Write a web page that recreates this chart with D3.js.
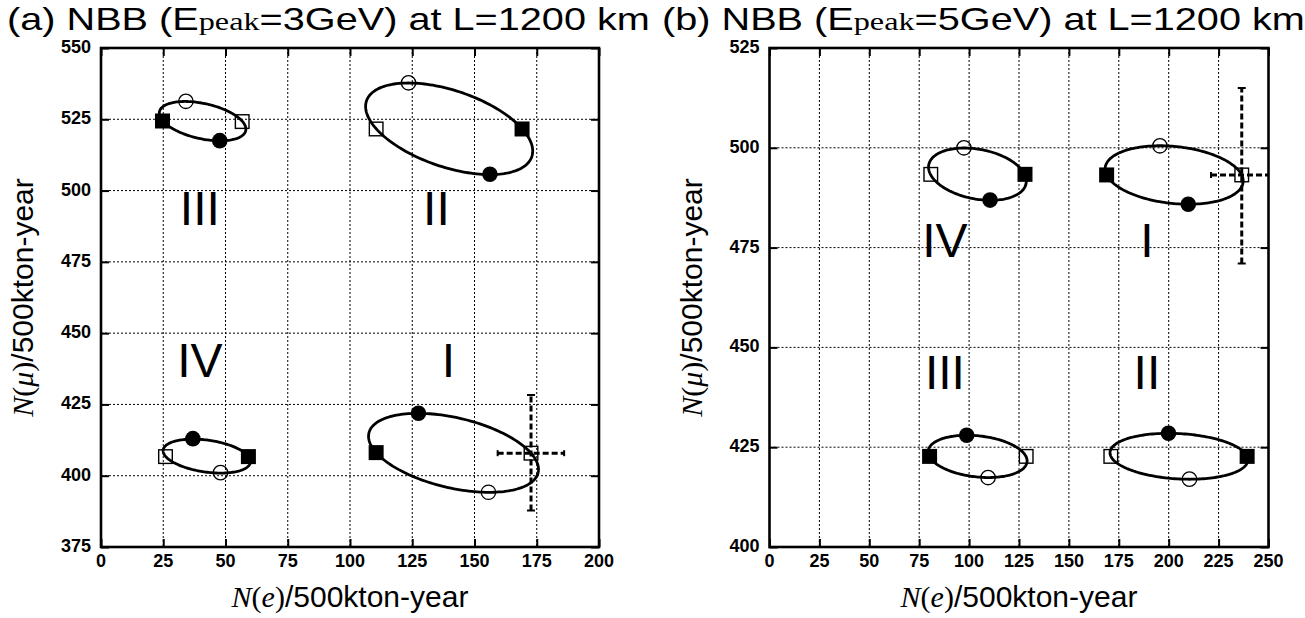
<!DOCTYPE html>
<html>
<head>
<meta charset="utf-8">
<script src="https://cdn.jsdelivr.net/npm/d3@7"></script>
<style>
  body { margin: 0; background: #fff; }
  svg text { font-family: "Liberation Sans", Arial, Helvetica, sans-serif; fill: #000; }
  .serif { font-family: "Liberation Serif", "Times New Roman", serif; }
</style>
</head>
<body>
<div id="chart"></div>
<script>
// Panel (a): NBB, Epeak = 3 GeV
let xTicksA = [0, 25, 50, 75, 100, 125, 150, 175, 200];
let yTicksA = [375, 400, 425, 450, 475, 500, 525, 550];
let quadNamesA = ['I', 'II', 'III', 'IV'];
let quadLabelPosA = [[139.5, 440.6], [134.7, 493.9], [39.7, 493.9], [39.7, 440.6]];
let filledSquareA = [[110.5, 408.1], [169.1, 521.6], [24.7, 524.4], [59.2, 406.7]];
let openSquareA = [[172.7, 407.9], [110.5, 521.6], [56.7, 524.2], [25.9, 406.7]];
let filledCircleA = [[127.5, 421.9], [156.2, 505.7], [47.7, 517.5], [36.9, 413.0]];
let openCircleA = [[155.6, 394.2], [123.5, 537.8], [34.1, 531.3], [48.0, 401.1]];
let errPointA = [172.7, 407.9];
let errXA = [159.3, 186.0];
let errYA = [387.8, 428.3];

// Panel (b): NBB, Epeak = 5 GeV
let xTicksB = [0, 25, 50, 75, 100, 125, 150, 175, 200, 225, 250];
let yTicksB = [400, 425, 450, 475, 500, 525];
let quadNamesB = ['I', 'II', 'III', 'IV'];
let quadLabelPosB = [[189.1, 476.9], [189.1, 443.9], [87.9, 443.9], [87.9, 476.9]];
let filledSquareB = [[168.9, 493.2], [239.3, 422.7], [80.2, 422.7], [128.0, 493.35]];
let openSquareB = [[236.6, 493.2], [171.0, 422.7], [128.6, 422.7], [80.8, 493.35]];
let filledCircleB = [[209.8, 485.85], [199.9, 428.5], [98.8, 428.0], [110.5, 486.9]];
let openCircleB = [[195.6, 500.5], [210.4, 417.0], [109.5, 417.4], [97.4, 500.0]];
let errPointB = [236.6, 493.2];
let errXB = [221.2, 252.0];
let errYB = [471.0, 515.0];

let svgWidth = 1305;
let svgHeight = 618;

let svg = d3.select('#chart').append('svg')
    .attr('width', svgWidth)
    .attr('height', svgHeight);

// CP-phase ellipse: squares sit at delta = 0 / pi, circles at pi/2 / 3pi/2
function ellipsePath(fs, os, fc, oc) {
    let cx = (fs[0] + os[0] + fc[0] + oc[0]) / 4;
    let cy = (fs[1] + os[1] + fc[1] + oc[1]) / 4;
    let b = [(fs[0] - os[0]) / 2, (fs[1] - os[1]) / 2];
    let c = [(fc[0] - oc[0]) / 2, (fc[1] - oc[1]) / 2];
    return d3.range(0, 2 * Math.PI, Math.PI / 90).map(t =>
        [cx + b[0] * Math.cos(t) + c[0] * Math.sin(t), cy + b[1] * Math.cos(t) + c[1] * Math.sin(t)]);
}

function drawPanel(p) {
    let xScale = d3.scaleLinear().domain(p.xDomain).range([p.left, p.right]);
    let yScale = d3.scaleLinear().domain(p.yDomain).range([p.bottom, p.top]);
    let g = svg.append('g');

    let clipId = 'clip' + p.id;
    svg.append('clipPath').attr('id', clipId)
        .append('rect')
        .attr('x', p.left).attr('y', p.top)
        .attr('width', p.right - p.left).attr('height', p.bottom - p.top);

    // dotted grid
    g.selectAll('line.vgrid').data(p.xTicks.slice(1, -1)).enter()
        .append('line')
        .attr('x1', d => xScale(d)).attr('x2', d => xScale(d))
        .attr('y1', p.top).attr('y2', p.bottom)
        .attr('stroke', '#000').attr('stroke-width', 1).attr('stroke-dasharray', '2,2');
    g.selectAll('line.hgrid').data(p.yTicks.slice(1, -1)).enter()
        .append('line')
        .attr('x1', p.left).attr('x2', p.right)
        .attr('y1', d => yScale(d)).attr('y2', d => yScale(d))
        .attr('stroke', '#000').attr('stroke-width', 1).attr('stroke-dasharray', '2,2');

    // axes with inward ticks on all four sides
    let tickLen = 8;
    g.append('g').attr('transform', `translate(0, ${p.bottom})`)
        .call(d3.axisTop(xScale).tickValues(p.xTicks).tickSize(tickLen).tickFormat(''));
    g.append('g').attr('transform', `translate(0, ${p.top})`)
        .call(d3.axisBottom(xScale).tickValues(p.xTicks).tickSize(tickLen).tickFormat(''));
    g.append('g').attr('transform', `translate(${p.left}, 0)`)
        .call(d3.axisRight(yScale).tickValues(p.yTicks).tickSize(tickLen).tickFormat(''));
    g.append('g').attr('transform', `translate(${p.right}, 0)`)
        .call(d3.axisLeft(yScale).tickValues(p.yTicks).tickSize(tickLen).tickFormat(''));
    g.selectAll('.domain').remove();
    g.selectAll('.tick line').attr('stroke', '#000').attr('stroke-width', 2);

    // tick labels
    g.selectAll('text.xtl').data(p.xTicks).enter()
        .append('text')
        .attr('x', d => xScale(d)).attr('y', p.bottom + 20)
        .attr('text-anchor', 'middle')
        .style('font-size', '18px').style('font-weight', 'bold')
        .text(d => d);
    g.selectAll('text.ytl').data(p.yTicks).enter()
        .append('text')
        .attr('x', p.left - 10).attr('y', d => yScale(d) + 5)
        .attr('text-anchor', 'end')
        .style('font-size', '18px').style('font-weight', 'bold')
        .text(d => d);

    // ellipses
    let line = d3.line().x(d => xScale(d[0])).y(d => yScale(d[1])).curve(d3.curveLinearClosed);
    p.names.forEach((n, i) => {
        g.append('path')
            .attr('d', line(ellipsePath(p.fs[i], p.os[i], p.fc[i], p.oc[i])))
            .attr('fill', 'none').attr('stroke', '#000').attr('stroke-width', 2.8);
    });

    // markers
    let sq = 15;
    g.selectAll('rect.fs').data(p.fs).enter().append('rect')
        .attr('x', d => xScale(d[0]) - sq / 2).attr('y', d => yScale(d[1]) - sq / 2)
        .attr('width', sq).attr('height', sq).attr('fill', '#000');
    g.selectAll('rect.os').data(p.os).enter().append('rect')
        .attr('x', d => xScale(d[0]) - sq / 2 + 0.7).attr('y', d => yScale(d[1]) - sq / 2 + 0.7)
        .attr('width', sq - 1.4).attr('height', sq - 1.4)
        .attr('fill', 'none').attr('stroke', '#000').attr('stroke-width', 1.4);
    g.selectAll('circle.fc').data(p.fc).enter().append('circle')
        .attr('cx', d => xScale(d[0])).attr('cy', d => yScale(d[1]))
        .attr('r', 7.8).attr('fill', '#000');
    g.selectAll('circle.oc').data(p.oc).enter().append('circle')
        .attr('cx', d => xScale(d[0])).attr('cy', d => yScale(d[1]))
        .attr('r', 7.2).attr('fill', 'none').attr('stroke', '#000').attr('stroke-width', 1.3);

    // statistical error bars
    let eb = g.append('g').attr('clip-path', `url(#${clipId})`);
    eb.append('line')
        .attr('x1', xScale(p.errX[0])).attr('x2', xScale(p.errX[1]))
        .attr('y1', yScale(p.errPt[1])).attr('y2', yScale(p.errPt[1]))
        .attr('stroke', '#000').attr('stroke-width', 3).attr('stroke-dasharray', '6,3');
    eb.append('line')
        .attr('x1', xScale(p.errPt[0])).attr('x2', xScale(p.errPt[0]))
        .attr('y1', yScale(p.errY[0])).attr('y2', yScale(p.errY[1]))
        .attr('stroke', '#000').attr('stroke-width', 3).attr('stroke-dasharray', '6,3');
    p.errX.forEach(v => eb.append('line')
        .attr('x1', xScale(v)).attr('x2', xScale(v))
        .attr('y1', yScale(p.errPt[1]) - 3).attr('y2', yScale(p.errPt[1]) + 3)
        .attr('stroke', '#000').attr('stroke-width', 2));
    p.errY.forEach(v => eb.append('line')
        .attr('x1', xScale(p.errPt[0]) - 4).attr('x2', xScale(p.errPt[0]) + 4)
        .attr('y1', yScale(v)).attr('y2', yScale(v))
        .attr('stroke', '#000').attr('stroke-width', 2));

    // quadrant labels
    g.selectAll('text.quad').data(p.names).enter()
        .append('text')
        .attr('x', (d, i) => xScale(p.labelPos[i][0]))
        .attr('y', (d, i) => yScale(p.labelPos[i][1]) + 17)
        .attr('text-anchor', 'middle')
        .style('font-size', '48px')
        .text(d => d);

    // frame
    g.append('rect')
        .attr('x', p.left).attr('y', p.top)
        .attr('width', p.right - p.left).attr('height', p.bottom - p.top)
        .attr('fill', 'none').attr('stroke', '#000').attr('stroke-width', 2.6);

    // axis titles
    let xl = g.append('text')
        .attr('x', (p.left + p.right) / 2).attr('y', 607)
        .attr('text-anchor', 'middle').style('font-size', '30px');
    xl.append('tspan').attr('class', 'serif').style('font-style', 'italic').text('N');
    xl.append('tspan').attr('class', 'serif').text('(');
    xl.append('tspan').attr('class', 'serif').style('font-style', 'italic').text('e');
    xl.append('tspan').attr('class', 'serif').text(')');
    xl.append('tspan').text('/500kton-year');

    let yl = g.append('text')
        .attr('transform', `translate(${p.left - 68}, ${(p.top + p.bottom) / 2}) rotate(-90)`)
        .attr('text-anchor', 'middle').style('font-size', '30px');
    yl.append('tspan').attr('class', 'serif').style('font-style', 'italic').text('N');
    yl.append('tspan').attr('class', 'serif').text('(');
    yl.append('tspan').attr('class', 'serif').style('font-style', 'italic').text('\u03BC');
    yl.append('tspan').attr('class', 'serif').text(')');
    yl.append('tspan').text('/500kton-year');

    // panel title
    let t = svg.append('text')
        .attr('transform', `translate(${p.titleX}, 29.5) scale(1.24, 1)`)
        .style('font-size', '32px');
    t.append('tspan').text(p.titlePre);
    t.append('tspan').attr('class', 'serif').style('font-size', '26px').text('peak');
    t.append('tspan').text(p.titlePost);
}

drawPanel({
    id: 'A', left: 101, right: 599, top: 48, bottom: 547,
    xDomain: [0, 200], yDomain: [375, 550],
    xTicks: xTicksA, yTicks: yTicksA, names: quadNamesA, labelPos: quadLabelPosA,
    fs: filledSquareA, os: openSquareA, fc: filledCircleA, oc: openCircleA,
    errPt: errPointA, errX: errXA, errY: errYA,
    titleX: 7, titlePre: '(a) NBB (E', titlePost: '=3GeV) at L=1200 km'
});
drawPanel({
    id: 'B', left: 769.5, right: 1268.5, top: 48, bottom: 547,
    xDomain: [0, 250], yDomain: [400, 525],
    xTicks: xTicksB, yTicks: yTicksB, names: quadNamesB, labelPos: quadLabelPosB,
    fs: filledSquareB, os: openSquareB, fc: filledCircleB, oc: openCircleB,
    errPt: errPointB, errX: errXB, errY: errYB,
    titleX: 662, titlePre: '(b) NBB (E', titlePost: '=5GeV) at L=1200 km'
});
</script>
</body>
</html>
